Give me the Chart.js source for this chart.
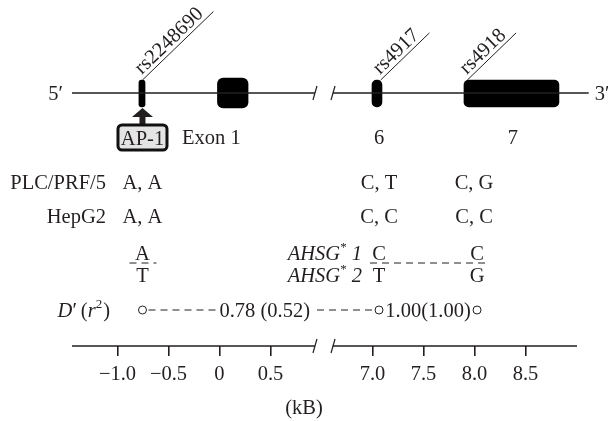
<!DOCTYPE html>
<html><head><meta charset="utf-8">
<script src="https://cdn.jsdelivr.net/npm/chart.js@4"></script>
<style>html,body{margin:0;padding:0;background:#fff}#c{display:block}</style>
</head><body>
<canvas id="c" width="608" height="421"></canvas>
<script>
// ---------- data (positions in kB) ----------
const tickValuesKb = [-1.0, -0.5, 0, 0.5, 7.0, 7.5, 8.0, 8.5];
const tickLabels   = ['\u22121.0', '\u22120.5', '0', '0.5', '7.0', '7.5', '8.0', '8.5'];
const snpNames   = ['rs2248690', 'rs4917', 'rs4918'];
const snpKb      = [-0.755, 7.064, 8.025];
const snpLineKb  = [-0.755, 7.08, 7.93];
const exonNames   = ['Exon 1', '6', '7'];
const exonStartKb = [-0.02, 6.995, 7.897];
const exonEndKb   = [0.28, 7.093, 8.828];
const exonLabelKb = [-0.08, 7.064, 8.377];
const promoterMarkKb = [-0.79, -0.73];
const geneSpanKb = [-1.446, 9.12];
const axisSpanKb = [-1.446, 9.005];
const breakKb    = [0.936, 6.613];
const cellLines  = ['PLC/PRF/5', 'HepG2'];
const genotypes  = [['A, A', 'C, T', 'C, G'], ['A, A', 'C, C', 'C, C']];
const haplotypeNames  = ['1', '2'];
const haplotypeTop    = ['A', 'C', 'C'];
const haplotypeBottom = ['T', 'T', 'G'];
const ldLabels = ['0.78 (0.52)', '1.00(1.00)'];

// ---------- broken-axis mapping ----------
const BREAK_AT = 1.0, BREAK_SHIFT = 5.5;
const toX = kb => kb <= BREAK_AT ? kb : kb - BREAK_SHIFT;

// ---------- layout tracks (vertical) ----------
const T = { gene: 93, exonLabel: 137, ap1: 137.5, plc: 182, hep: 216,
            hapTop: 253, hapMid: 263, hapBot: 275, ld: 310, axis: 346 };
const INK = '#231f20';
const FONT = '"Liberation Serif", "Times New Roman", serif';
const FS = 20.5;
const DY = 2; // optical centring of text

function font(sz, it) { return (it ? 'italic ' : '') + sz + 'px ' + FONT; }

function rich(ctx, parts, x, y, align) {
  let w = 0;
  parts.forEach(p => { ctx.font = font(p.sup ? 13 : FS, p.i); w += ctx.measureText(p.t).width + (p.dx || 0); });
  let cx = align === 'right' ? x - w : (align === 'center' ? x - w / 2 : x);
  ctx.textAlign = 'left';
  parts.forEach(p => {
    ctx.font = font(p.sup ? 13 : FS, p.i);
    ctx.fillText(p.t, cx, p.sup ? y - 7 : y);
    cx += ctx.measureText(p.t).width + (p.dx || 0);
  });
}

const deco = {
  id: 'deco',
  afterDatasetsDraw(chart) {
    const ctx = chart.ctx, xs = chart.scales.x, ys = chart.scales.y;
    const px = kb => xs.getPixelForValue(toX(kb));
    const py = v => ys.getPixelForValue(v);
    const ty = v => py(v) + DY;
    ctx.save();
    ctx.fillStyle = INK; ctx.strokeStyle = INK;
    ctx.textBaseline = 'middle';

    // 5' / 3'
    ctx.font = font(FS);
    ctx.textAlign = 'right'; ctx.fillText('5\u2032', px(geneSpanKb[0]) - 9, ty(T.gene));
    ctx.textAlign = 'left';  ctx.fillText('3\u2032', px(geneSpanKb[1]) + 6, ty(T.gene));

    // break slashes
    ctx.lineWidth = 1.2;
    [T.gene, T.axis].forEach(t => {
      breakKb.forEach(b => {
        const x = px(b), y = py(t);
        ctx.beginPath(); ctx.moveTo(x - 2, y + 7); ctx.lineTo(x + 2, y - 7); ctx.stroke();
      });
    });

    // SNP diagonal labels
    const ang = 44 * Math.PI / 180;
    const geneTop = py(T.gene) - 13;
    snpNames.forEach((n, i) => {
      ctx.font = font(FS);
      const w = ctx.measureText(n).width;
      const L = w + 12;
      const x0 = px(snpLineKb[i]), y0 = geneTop;
      ctx.lineWidth = 1;
      ctx.beginPath(); ctx.moveTo(x0, y0);
      ctx.lineTo(x0 + L * Math.cos(ang), y0 - L * Math.sin(ang)); ctx.stroke();
      ctx.save(); ctx.translate(x0, y0); ctx.rotate(-ang);
      ctx.textAlign = 'left'; ctx.textBaseline = 'alphabetic';
      ctx.fillText(n, 3, -4);
      ctx.restore();
    });

    // exon labels
    ctx.font = font(FS); ctx.textAlign = 'center'; ctx.textBaseline = 'middle';
    exonNames.forEach((n, i) => ctx.fillText(n, px(exonLabelKb[i]), ty(T.exonLabel)));

    // AP-1 arrow + box
    const ax = px(snpKb[0]);
    const bw = 49, bh = 25, by = py(T.ap1);
    const g = py(T.gene);
    ctx.beginPath();
    ctx.moveTo(ax, g + 15); ctx.lineTo(ax + 10.5, g + 24); ctx.lineTo(ax - 10.5, g + 24);
    ctx.closePath(); ctx.fill();
    ctx.fillRect(ax - 3, g + 23, 6, by - bh / 2 - (g + 23) + 1);
    ctx.beginPath(); ctx.roundRect(ax - bw / 2, by - bh / 2, bw, bh, 4);
    ctx.fillStyle = '#e4e4e4'; ctx.fill();
    ctx.lineWidth = 3; ctx.strokeStyle = '#111'; ctx.stroke();
    ctx.fillStyle = INK; ctx.strokeStyle = INK;
    ctx.font = font(FS); ctx.textAlign = 'center';
    ctx.fillText('AP-1', ax, by + DY);

    // cell lines genotypes
    const labelX = px(-1.113);
    [T.plc, T.hep].forEach((t, r) => {
      ctx.font = font(FS); ctx.textAlign = 'right';
      ctx.fillText(cellLines[r], labelX, ty(t));
      ctx.textAlign = 'center';
      genotypes[r].forEach((gt, i) => ctx.fillText(gt, px(snpKb[i]) + (i === 2 ? -3 : 0), ty(t)));
    });

    // haplotypes
    ctx.textAlign = 'center'; ctx.font = font(FS);
    haplotypeTop.forEach((a, i) => ctx.fillText(a, px(snpKb[i]), ty(T.hapTop)));
    haplotypeBottom.forEach((a, i) => ctx.fillText(a, px(snpKb[i]), ty(T.hapBot)));
    haplotypeNames.forEach((h, r) => {
      rich(ctx, [{t: 'AHSG', i: true}, {t: '*', sup: true}, {t: ' ' + h, i: true}],
           px(snpKb[1]) - 17, ty(r === 0 ? T.hapTop : T.hapBot), 'right');
    });
    ctx.lineWidth = 1; ctx.setLineDash([7, 5]);
    ctx.beginPath();
    ctx.moveTo(px(snpKb[0]) - 13, py(T.hapMid)); ctx.lineTo(px(snpKb[0]) + 14, py(T.hapMid));
    ctx.moveTo(px(snpKb[1]) - 9, py(T.hapMid)); ctx.lineTo(px(snpKb[2]) + 9, py(T.hapMid));
    ctx.stroke();

    // LD row
    rich(ctx, [{t: 'D', i: true}, {t: '\u2032', dx: 4}, {t: '('}, {t: 'r', i: true}, {t: '2', sup: true, dx: 1}, {t: ')'}],
         110, ty(T.ld), 'right');
    const c1 = px(snpKb[0]), c2 = px(snpKb[1]), c3 = px(snpKb[2]);
    ctx.font = font(FS);
    const w1 = ctx.measureText(ldLabels[0]).width;
    const m1 = (c1 + c2) / 2 + 4;
    ctx.beginPath();
    ctx.moveTo(c1 + 6, py(T.ld)); ctx.lineTo(m1 - w1 / 2 - 1, py(T.ld));
    ctx.moveTo(m1 + w1 / 2 + 7, py(T.ld)); ctx.lineTo(c2 - 5, py(T.ld));
    ctx.stroke(); ctx.setLineDash([]);
    ctx.textAlign = 'center';
    ctx.fillText(ldLabels[0], m1, ty(T.ld));
    ctx.fillText(ldLabels[1], (c2 + c3) / 2, ty(T.ld));

    ctx.restore();
  }
};

const barBase = { type: 'bar', indexAxis: 'y', stack: 'gene', backgroundColor: '#000',
                  borderSkipped: false, borderWidth: 0 };
const lineBase = { type: 'line', showLine: true, pointRadius: 0, borderColor: INK,
                   borderWidth: 1.3, clip: false, spanGaps: false, fill: false };

new Chart(document.getElementById('c'), {
  type: 'scatter',
  data: {
    datasets: [
      Object.assign({}, lineBase, { data: [
        {x: toX(geneSpanKb[0]), y: T.gene}, {x: toX(breakKb[0]), y: T.gene},
        {x: toX(BREAK_AT), y: null},
        {x: toX(breakKb[1]), y: T.gene}, {x: toX(geneSpanKb[1]), y: T.gene}] }),
      Object.assign({}, lineBase, { borderWidth: 1.5, data: [
        {x: toX(axisSpanKb[0]), y: T.axis}, {x: toX(breakKb[0]), y: T.axis},
        {x: toX(BREAK_AT), y: null},
        {x: toX(breakKb[1]), y: T.axis}, {x: toX(axisSpanKb[1]), y: T.axis}] }),
      Object.assign({}, barBase, { barThickness: 30, borderRadius: 6,
        data: [{x: [toX(exonStartKb[0]), toX(exonEndKb[0])], y: T.gene}] }),
      Object.assign({}, barBase, { barThickness: 27, borderRadius: 5,
        data: [1, 2].map(i => ({x: [toX(exonStartKb[i]), toX(exonEndKb[i])], y: T.gene + 0.5})) }),
      Object.assign({}, barBase, { barThickness: 27, borderRadius: 3,
        data: [{x: [toX(promoterMarkKb[0]), toX(promoterMarkKb[1])], y: T.gene + 0.5}] }),
      { type: 'scatter', data: snpKb.map(k => ({x: toX(k), y: T.ld})),
        pointRadius: 4, pointBackgroundColor: '#fff', pointBorderColor: INK, pointBorderWidth: 1 }
    ]
  },
  options: {
    responsive: false, animation: false, events: [], devicePixelRatio: 1,
    layout: { padding: 0, autoPadding: false },
    plugins: { legend: { display: false }, tooltip: { enabled: false } },
    scales: {
      x: {
        type: 'linear', min: -2.152, max: 3.809, stacked: false, offset: false,
        afterBuildTicks: s => { s.ticks = tickValuesKb.map(k => ({ value: toX(k) })); },
        afterFit: s => { s.height = 75; },
        ticks: { callback: (v, i) => tickLabels[i], color: INK, padding: 6, maxRotation: 0,
                 autoSkip: false, font: { family: FONT, size: FS } },
        grid: { offset: false, drawOnChartArea: false, drawTicks: true, tickLength: 10, color: INK, lineWidth: 1.6 },
        border: { display: false },
        title: { display: true, text: '(kB)', color: INK, font: { family: FONT, size: FS },
                 padding: { top: 0, bottom: 0 } }
      },
      y: { type: 'linear', display: false, min: 0, max: 346, reverse: true, offset: false,
           grid: { offset: false } }
    }
  },
  plugins: [deco]
});
</script>
</body></html>
